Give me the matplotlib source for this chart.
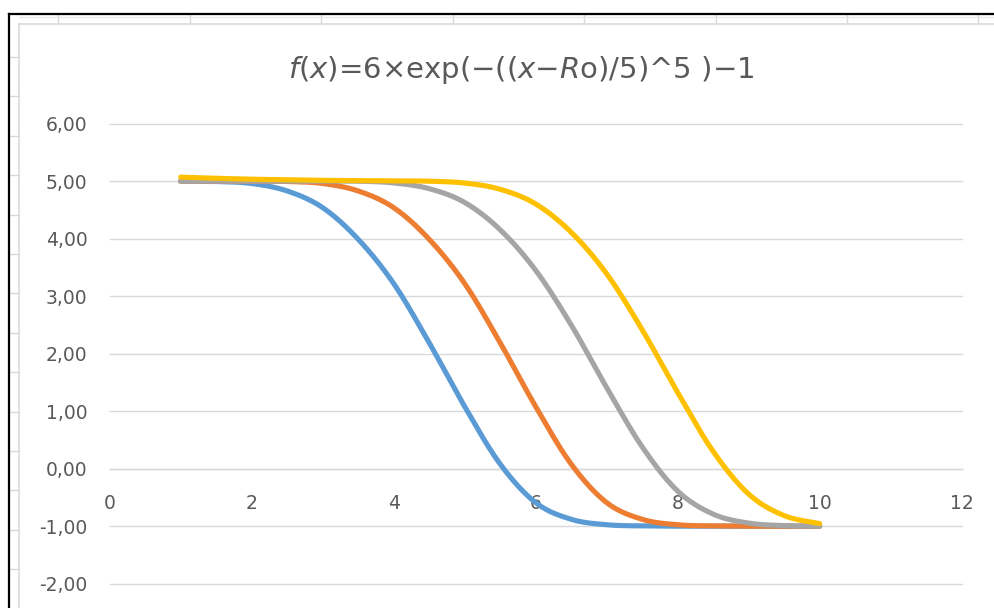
import numpy as np
import matplotlib
matplotlib.use("Agg")
import matplotlib.pyplot as plt
from matplotlib.lines import Line2D

# ---- data -------------------------------------------------------------
x_vals = [1, 1.5, 2, 2.5, 3, 3.5, 4, 4.5, 5, 5.5,
          6, 6.5, 7, 7.5, 8, 8.5, 9, 9.5, 10]
series_blue = [5.00, 4.995, 4.96, 4.83, 4.54, 3.99, 3.22, 2.19, 1.08, 0.08,
               -0.59, -0.88, -0.975, -0.995, -1.00, -1.00, -1.00, -1.00, -1.00]
series_orange = [5.00, 5.00, 5.00, 4.995, 4.96, 4.83, 4.54, 3.99, 3.22, 2.19,
                 1.08, 0.08, -0.59, -0.88, -0.975, -0.995, -1.00, -1.00, -1.00]
series_gray = [5.00, 5.00, 5.00, 5.00, 5.00, 5.00, 4.97, 4.87, 4.63, 4.155,
               3.45, 2.50, 1.41, 0.38, -0.39, -0.79, -0.946, -0.99, -1.00]
series_yellow = [5.07, 5.05, 5.035, 5.025, 5.015, 5.01, 5.005, 5.00, 4.968, 4.859,
                 4.604, 4.111, 3.389, 2.417, 1.324, 0.30, -0.442, -0.816, -0.954]
x_ticks = [0, 2, 4, 6, 8, 10, 12]
y_ticks = [-2, -1, 0, 1, 2, 3, 4, 5, 6]
title = r"$f(x)$=6×exp(−(($x$−$R$o)/5)^5 )−1"

colors = ["#5B9BD5", "#ED7D31", "#A5A5A5", "#FFC000"]

W, H = 995, 608


def smooth(xs, ys, n=30):
    """Bezier smoothing through every point (spreadsheet-style smoothed line)."""
    P = np.column_stack([xs, ys]).astype(float)
    ext = np.vstack([P[0], P, P[-1]])
    out = []
    t = np.linspace(0, 1, n)[:, None]
    for i in range(len(P) - 1):
        p0, p1 = ext[i + 1], ext[i + 2]
        c1 = p0 + (ext[i + 2] - ext[i]) / 6.0
        c2 = p1 - (ext[i + 3] - ext[i + 1]) / 6.0
        seg = ((1 - t) ** 3) * p0 + 3 * ((1 - t) ** 2) * t * c1 \
            + 3 * (1 - t) * t ** 2 * c2 + t ** 3 * p1
        out.append(seg if i == 0 else seg[1:])
    S = np.vstack(out)
    return S[:, 0], S[:, 1]


fig = plt.figure(figsize=(W / 100, H / 100), dpi=100)
fig.patch.set_facecolor("white")


def fx(px):
    return px / W


def fy(py):
    return 1 - py / H


# spreadsheet frame around the chart object
grid_c = "#D9D9D9"
for cx in [58, 190, 321, 453, 584, 716, 847, 978]:
    fig.add_artist(Line2D([fx(cx), fx(cx)], [fy(15), fy(24)], color=grid_c, lw=1.0))
for ry in np.arange(57, 608, 39.4):
    fig.add_artist(Line2D([fx(10), fx(19)], [fy(ry), fy(ry)], color=grid_c, lw=1.0))
fig.add_artist(Line2D([fx(19), fx(W)], [fy(17), fy(17)], color="#E6E6E6", lw=0.8))
fig.add_artist(Line2D([fx(19), fx(W)], [fy(24), fy(24)], color=grid_c, lw=1.2))
fig.add_artist(Line2D([fx(19), fx(19)], [fy(24), fy(H)], color=grid_c, lw=1.2))
fig.add_artist(Line2D([fx(9), fx(W)], [fy(14), fy(14)], color="black", lw=1.6))
fig.add_artist(Line2D([fx(9), fx(9)], [fy(14), fy(H)], color="black", lw=1.6))

# plot area
left, right, top, bottom = 109.7, 961.7, 123.7, 583.7
ax = fig.add_axes([fx(left), fy(bottom), (right - left) / W, (bottom - top) / H])
ax.set_facecolor("none")
ax.set_xlim(0, 12)
ax.set_ylim(-2, 6)

# horizontal gridlines (unclipped so the edge lines stay whole)
for v in y_ticks:
    ax.axhline(v, color=grid_c, lw=1.0, zorder=0, clip_on=False)

for ys, c in zip([series_blue, series_orange, series_gray, series_yellow], colors):
    sx, sy = smooth(x_vals, ys)
    ax.plot(sx, sy, color=c, lw=3.7, solid_capstyle="round",
            solid_joinstyle="round", zorder=3)

ax.set_yticks(y_ticks)
ax.set_yticklabels([f"{v:.2f}".replace(".", ",") for v in y_ticks])
ax.set_xticks(x_ticks)
ax.set_xticklabels([str(v) for v in x_ticks])
for s in ["top", "right", "left"]:
    ax.spines[s].set_visible(False)
ax.spines["bottom"].set_position(("data", 0))
ax.spines["bottom"].set_color(grid_c)
ax.spines["bottom"].set_linewidth(1.0)
ax.tick_params(axis="x", length=0, pad=18.5, labelsize=13.5, labelcolor="#595959")
ax.tick_params(axis="y", length=0, pad=16, labelsize=13.5, labelcolor="#595959")

fig.text(fx(521), fy(70), title, ha="center", va="center",
         fontsize=21, color="#595959")

fig.savefig("out.png", dpi=100, facecolor="white")
